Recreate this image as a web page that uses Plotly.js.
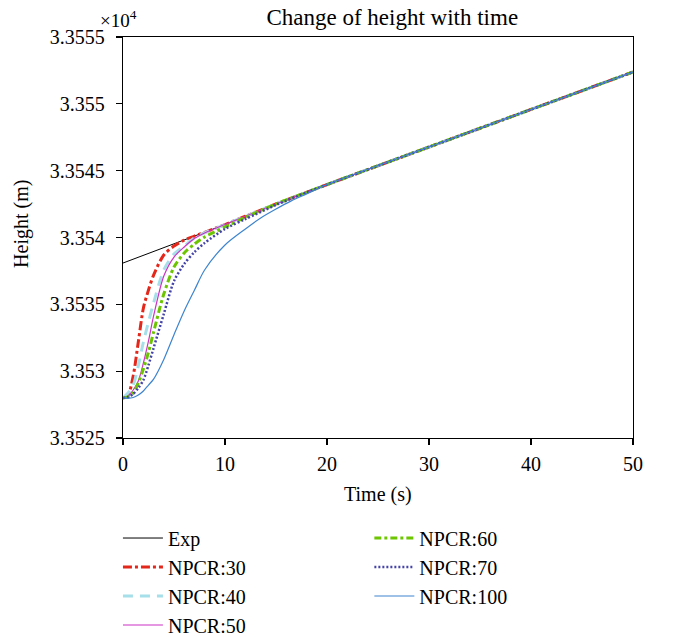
<!DOCTYPE html>
<html>
<head>
<meta charset="utf-8">
<script src="https://cdn.plot.ly/plotly-3.0.1.min.js"></script>
<style>html,body{margin:0;padding:0;background:#fff;}#chart{width:674px;height:637px;}</style>
</head>
<body>
<div id="chart"></div>
<script>
// Time (s)
const expTime = [0, 5, 10, 15, 20, 30, 40, 50];
// Height, in units of 1e4 m
const expHeight = [3.353809, 3.353951, 3.354097, 3.354251, 3.354396, 3.354677, 3.354958, 3.355238];

const simTime = [0, 0.5, 1, 1.5, 2, 2.5, 3, 4, 5, 6, 7, 8, 10, 12, 15, 18, 20, 30, 40, 50];
const npcr30 = [3.3528, 3.352822, 3.352964, 3.353218, 3.353472, 3.353607, 3.353719, 3.353869, 3.353936, 3.35398, 3.35401, 3.354039, 3.354097, 3.354159, 3.354251, 3.354338, 3.354396, 3.354677, 3.354958, 3.355238];
const npcr40 = [3.3528, 3.352837, 3.352896, 3.353039, 3.353218, 3.353368, 3.35351, 3.353757, 3.353876, 3.353936, 3.353996, 3.354034, 3.354097, 3.354159, 3.354251, 3.354338, 3.354396, 3.354677, 3.354958, 3.355238];
const npcr50 = [3.3528, 3.352814, 3.352859, 3.352926, 3.353061, 3.353226, 3.353413, 3.353712, 3.353854, 3.353929, 3.353992, 3.354034, 3.354097, 3.354159, 3.354251, 3.354338, 3.354396, 3.354677, 3.354958, 3.355238];
const npcr60 = [3.3528, 3.352807, 3.352837, 3.352911, 3.353016, 3.353143, 3.353293, 3.353577, 3.353779, 3.353884, 3.353951, 3.354004, 3.354079, 3.35415, 3.354251, 3.354338, 3.354396, 3.354677, 3.354958, 3.355238];
const npcr70 = [3.3528, 3.352807, 3.352829, 3.352874, 3.352934, 3.353046, 3.353173, 3.353428, 3.353674, 3.353802, 3.353891, 3.353959, 3.354064, 3.354138, 3.354243, 3.354338, 3.354396, 3.354677, 3.354958, 3.355238];
const npcr100Time = [0, 0.5, 1, 1.5, 2, 2.5, 3, 4, 5, 6, 7, 8, 10, 12, 13.5, 15, 16.5, 18, 20, 30, 40, 50];
const npcr100 = [3.3528, 3.352797, 3.352803, 3.352822, 3.352852, 3.352896, 3.352941, 3.353088, 3.353273, 3.35345, 3.353605, 3.353757, 3.353944, 3.354064, 3.354146, 3.354213, 3.354274, 3.354326, 3.354396, 3.354677, 3.354958, 3.355238];

const yTickVals = [3.3525, 3.353, 3.3535, 3.354, 3.3545, 3.355, 3.3555];
const yTickText = ['3.3525', '3.353', '3.3535', '3.354', '3.3545', '3.355', '3.3555'];
const xTickVals = [0, 10, 20, 30, 40, 50];

const FONT = 'Liberation Serif, Times New Roman, serif';

const sp = {shape: 'spline', smoothing: 0.8};
const traces = [
  {x: expTime, y: expHeight, name: 'Exp', mode: 'lines', line: {color: '#000000', width: 1}, legend: 'legend'},
  {x: simTime, y: npcr30, name: 'NPCR:30', mode: 'lines', line: Object.assign({color: '#e3281b', width: 3, dash: '9px,3px,3px,3px'}, sp), legend: 'legend'},
  {x: simTime, y: npcr40, name: 'NPCR:40', mode: 'lines', line: Object.assign({color: '#a6dfe9', width: 3, dash: '10px,7px'}, sp), legend: 'legend'},
  {x: simTime, y: npcr50, name: 'NPCR:50', mode: 'lines', line: Object.assign({color: '#cc33c4', width: 1.2}, sp), legend: 'legend'},
  {x: simTime, y: npcr60, name: 'NPCR:60', mode: 'lines', line: Object.assign({color: '#6cc500', width: 3, dash: '7px,3px,3px,3px'}, sp), legend: 'legend2'},
  {x: simTime, y: npcr70, name: 'NPCR:70', mode: 'lines', line: Object.assign({color: '#4444a8', width: 2.5, dash: '2px,2px'}, sp), legend: 'legend2'},
  {x: npcr100Time, y: npcr100, name: 'NPCR:100', mode: 'lines', line: Object.assign({color: '#3d84cf', width: 1.2}, sp), legend: 'legend2'}
];

const axisCommon = {
  showline: true, linecolor: '#000', linewidth: 1.3, mirror: true,
  ticks: 'outside', ticklen: 6, tickcolor: '#000', tickwidth: 1.3,
  showgrid: false, zeroline: false, automargin: false,
  tickfont: {family: FONT, size: 20, color: '#000'}
};

const legendCommon = {
  xref: 'container', yref: 'container', xanchor: 'left', yanchor: 'top',
  bgcolor: 'rgba(0,0,0,0)', font: {family: FONT, size: 20, color: '#000'},
  tracegroupgap: 0, itemwidth: 40
};

const layout = {
  width: 674, height: 637,
  margin: {l: 123, r: 41, t: 37, b: 199, autoexpand: false},
  paper_bgcolor: '#fff', plot_bgcolor: '#fff',
  showlegend: true,
  title: {text: 'Change of height with time', font: {family: FONT, size: 23, color: '#000'}, xref: 'container', x: 0.582, xanchor: 'center', yref: 'container', y: 0.973, yanchor: 'middle'},
  xaxis: Object.assign({}, axisCommon, {range: [0, 50], tickvals: xTickVals, ticklabelstandoff: 2}),
  yaxis: Object.assign({}, axisCommon, {range: [3.3525, 3.3555], tickvals: yTickVals, ticktext: yTickText, ticklabelstandoff: 7}),
  legend: Object.assign({}, legendCommon, {x: 0.175, y: 0.186}),
  legend2: Object.assign({}, legendCommon, {x: 0.548, y: 0.186}),
  annotations: [
    {xref: 'paper', yref: 'paper', x: -0.05, y: 1.01, xanchor: 'left', yanchor: 'bottom', showarrow: false,
     text: '×10<sup>4</sup>', font: {family: FONT, size: 19, color: '#000'}},
    {xref: 'paper', yref: 'paper', x: 0.5, y: -0.142, xanchor: 'center', yanchor: 'middle', showarrow: false,
     text: 'Time (s)', font: {family: FONT, size: 20, color: '#000'}},
    {xref: 'paper', yref: 'paper', x: -0.198, y: 0.534, xanchor: 'center', yanchor: 'middle', showarrow: false,
     textangle: -90, text: 'Height (m)', font: {family: FONT, size: 20, color: '#000'}}
  ]
};

Plotly.newPlot('chart', traces, layout, {displayModeBar: false, staticPlot: true});
</script>
</body>
</html>
